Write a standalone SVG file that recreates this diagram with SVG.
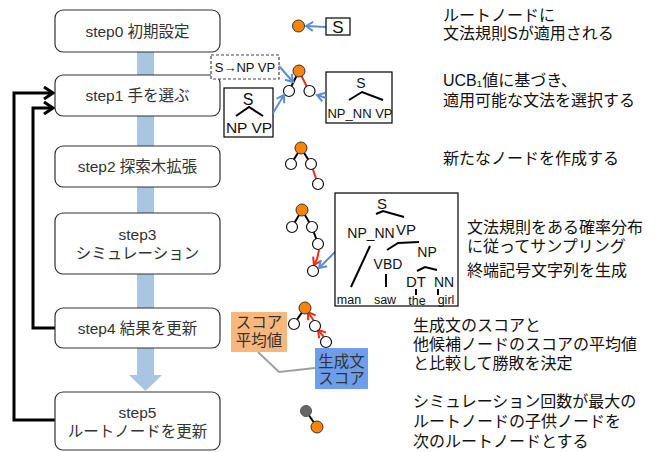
<svg xmlns="http://www.w3.org/2000/svg" width="664" height="452" viewBox="0 0 664 452">
<style>
.box{fill:#fff;stroke:#333;stroke-width:1.2}
.st{font-family:"Liberation Sans","Noto Sans CJK JP",sans-serif;font-size:15.5px;fill:#333;text-anchor:middle}
.desc{font-family:"Liberation Sans","Noto Sans CJK JP",sans-serif;font-size:16px;fill:#111}
.lbl{font-family:"Liberation Sans",sans-serif;fill:#111;text-anchor:middle}
.on{fill:#f98407;stroke:#333;stroke-width:1}
.wn{fill:#fff;stroke:#111;stroke-width:1.2}
.gn{fill:#666;stroke:#555;stroke-width:1}
.ed{stroke:#000;stroke-width:2;fill:none}
.red{stroke:#f52a14;stroke-width:2;fill:none}
.blu{stroke:#5b8fd0;stroke-width:2;fill:none}
.fb{stroke:#000;stroke-width:3;fill:none}
.pt{stroke:#000;stroke-width:2;fill:none}
</style>
<defs>
<marker id="ab" markerUnits="userSpaceOnUse" markerWidth="12" markerHeight="12" refX="9" refY="6" orient="auto"><path d="M2,1.5 L9,6 L2,10.5" fill="none" stroke="#5b8fd0" stroke-width="2"/></marker>
<marker id="ar" markerUnits="userSpaceOnUse" markerWidth="12" markerHeight="12" refX="9" refY="6" orient="auto"><path d="M2,1.5 L9,6 L2,10.5" fill="none" stroke="#f52a14" stroke-width="2"/></marker>
<marker id="ak" markerUnits="userSpaceOnUse" markerWidth="14" markerHeight="14" refX="11" refY="7" orient="auto"><path d="M2,1 L11,7 L2,13" fill="none" stroke="#000" stroke-width="3"/></marker>
</defs>

<g id="connectors">
<path d="M137,52 L154,52 L154,375 L162,375 L145.5,391 L129,375 L137,375 Z" fill="#a9c5e1"/>
<path class="fb" d="M55,420 L14,420 L14,93 L53,93" marker-end="url(#ak)"/>
<path class="fb" d="M55,328 L33,328 L33,108 L53,108" marker-end="url(#ak)"/>
</g>

<g id="step0"><rect class="box" x="55" y="10" width="165" height="42" rx="8"/><text class="st" x="137.5" y="37">step0 初期設定</text></g>
<g id="step1"><rect class="box" x="55" y="75" width="165" height="41" rx="8"/><text class="st" x="137.5" y="101">step1 手を選ぶ</text></g>
<g id="step2"><rect class="box" x="55" y="146" width="165" height="41" rx="8"/><text class="st" x="137.5" y="172">step2 探索木拡張</text></g>
<g id="step3"><rect class="box" x="55" y="213" width="165" height="61" rx="8"/><text class="st" x="137.5" y="240">step3</text><text class="st" x="137.5" y="259">シミュレーション</text></g>
<g id="step4"><rect class="box" x="55" y="308" width="165" height="40" rx="8"/><text class="st" x="137.5" y="334">step4 結果を更新</text></g>
<g id="step5"><rect class="box" x="55" y="392" width="165" height="58" rx="8"/><text class="st" x="137.5" y="418">step5</text><text class="st" x="137.5" y="437">ルートノードを更新</text></g>

<g id="ill0">
<path class="blu" d="M326,27 L306,26" marker-end="url(#ab)"/>
<circle class="on" cx="298.5" cy="26" r="6"/>
<rect x="326" y="18" width="24" height="17" fill="#fff" stroke="#000" stroke-width="1.2"/>
<text class="lbl" x="338" y="32.5" font-size="17">S</text>
</g>

<g id="ill1">
<line class="ed" x1="299" y1="71" x2="289" y2="91"/>
<line class="red" x1="299" y1="71" x2="309" y2="91"/>
<circle class="on" cx="299" cy="71" r="6"/>
<circle class="wn" cx="289" cy="91" r="5.5"/>
<circle class="wn" cx="309.5" cy="91" r="5.5"/>
<rect x="211" y="55" width="68" height="24" fill="#fff" stroke="#444" stroke-width="1.2" stroke-dasharray="3,2"/>
<text class="lbl" x="245" y="72" font-size="13">S→NP VP</text>
<path class="blu" d="M279,66 L293,82" marker-end="url(#ab)"/>
<rect x="224" y="88" width="49" height="49" fill="#fff" stroke="#000" stroke-width="1.2"/>
<text class="lbl" x="248" y="105" font-size="16">S</text>
<path class="pt" d="M236,116 L249,107 L263,116"/>
<text class="lbl" x="249" y="133" font-size="15.5">NP VP</text>
<path class="blu" d="M273,113 L284,95" marker-end="url(#ab)"/>
<rect x="326" y="72" width="66" height="51" fill="#fff" stroke="#000" stroke-width="1.2"/>
<text class="lbl" x="361" y="88" font-size="14">S</text>
<path class="pt" d="M349,100 L362,92 L383,100"/>
<text class="lbl" x="360" y="118" font-size="13">NP_NN VP</text>
<path class="blu" d="M326,98 L317,95" marker-end="url(#ab)"/>
</g>

<g id="ill2">
<line class="ed" x1="301" y1="148" x2="291" y2="164"/>
<line class="ed" x1="301" y1="148" x2="311" y2="164"/>
<line class="red" x1="311" y1="164" x2="318" y2="184"/>
<circle class="on" cx="301" cy="148" r="6"/>
<circle class="wn" cx="291" cy="164" r="5.5"/>
<circle class="wn" cx="311" cy="164" r="5.5"/>
<circle class="wn" cx="318" cy="184" r="5.5"/>
</g>

<g id="ill3">
<line class="ed" x1="302" y1="210" x2="292" y2="227"/>
<line class="ed" x1="302" y1="210" x2="312" y2="227"/>
<line class="ed" x1="312" y1="227" x2="318" y2="244"/>
<path class="red" d="M319,250 L317,259 L314,265" marker-end="url(#ar)"/>
<circle class="on" cx="302" cy="210" r="6"/>
<circle class="wn" cx="292" cy="227" r="5.5"/>
<circle class="wn" cx="312" cy="227" r="5.5"/>
<circle class="wn" cx="318" cy="244" r="5.5"/>
<circle class="wn" cx="313" cy="271" r="5.5"/>
<path class="blu" d="M336,251 L319,268" marker-end="url(#ab)"/>
<rect x="335" y="193" width="123" height="113" fill="#fff" stroke="#000" stroke-width="1.2"/>
<text class="lbl" x="382" y="209" font-size="15">S</text>
<path class="pt" d="M376,214 L383,211 L404,217"/>
<text class="lbl" x="371" y="238" font-size="14">NP_NN</text>
<text class="lbl" x="406" y="235" font-size="15">VP</text>
<path class="pt" d="M387,250 L398,243 L419,242"/>
<text class="lbl" x="427" y="257" font-size="14">NP</text>
<path class="pt" d="M417,271 L425,267 L437,270"/>
<text class="lbl" x="388" y="269" font-size="14">VBD</text>
<text class="lbl" x="416" y="287" font-size="15">DT</text>
<text class="lbl" x="444" y="287" font-size="14">NN</text>
<line class="pt" x1="370" y1="246" x2="351" y2="287"/>
<line class="pt" x1="386" y1="274" x2="386" y2="287"/>
<line class="pt" x1="416" y1="289" x2="416" y2="295"/>
<line class="pt" x1="438" y1="289" x2="438" y2="295"/>
<text class="lbl" x="349" y="304" font-size="12.5">man</text>
<text class="lbl" x="385" y="304" font-size="12.5">saw</text>
<text class="lbl" x="417" y="305" font-size="12.5">the</text>
<text class="lbl" x="446" y="304" font-size="12.5">girl</text>
</g>

<g id="ill4">
<line class="ed" x1="305" y1="308" x2="294" y2="324"/>
<path class="red" d="M314,321 L308,312" marker-end="url(#ar)"/>
<path class="red" d="M324,337 L318,330" marker-end="url(#ar)"/>
<circle class="on" cx="305" cy="308" r="6"/>
<circle class="wn" cx="294" cy="324" r="5.5"/>
<circle class="wn" cx="315" cy="326" r="5.5"/>
<circle class="wn" cx="326" cy="342" r="5.5"/>
<path d="M258,352 L279,372 L315,368" fill="none" stroke="#a0a0a0" stroke-width="2"/>
<rect x="231" y="312" width="56" height="40" fill="#f9b77c"/>
<text class="st" x="259" y="328" font-size="15">スコア</text>
<text class="st" x="259" y="346" font-size="15">平均値</text>
<rect x="315" y="348" width="53" height="41" fill="#6d9eeb"/>
<text class="st" x="341.5" y="367" font-size="15">生成文</text>
<text class="st" x="341.5" y="384" font-size="15">スコア</text>
</g>

<g id="ill5">
<line class="ed" x1="306" y1="411" x2="317" y2="427"/>
<circle class="gn" cx="306" cy="411" r="5.5"/>
<circle class="on" cx="317" cy="427" r="6"/>
</g>

<g id="descriptions">
<text class="desc" x="443" y="21">ルートノードに</text>
<text class="desc" x="443" y="39">文法規則Sが適用される</text>
<text class="desc" x="443" y="86">UCB₁値に基づき、</text>
<text class="desc" x="443" y="106">適用可能な文法を選択する</text>
<text class="desc" x="443" y="164">新たなノードを作成する</text>
<text class="desc" x="467" y="233">文法規則をある確率分布</text>
<text class="desc" x="467" y="252">に従ってサンプリング</text>
<text class="desc" x="467" y="276">終端記号文字列を生成</text>
<text class="desc" x="413" y="331">生成文のスコアと</text>
<text class="desc" x="413" y="350">他候補ノードのスコアの平均値</text>
<text class="desc" x="413" y="369">と比較して勝敗を決定</text>
<text class="desc" x="413" y="407">シミュレーション回数が最大の</text>
<text class="desc" x="413" y="427">ルートノードの子供ノードを</text>
<text class="desc" x="413" y="447">次のルートノードとする</text>
</g>
</svg>
